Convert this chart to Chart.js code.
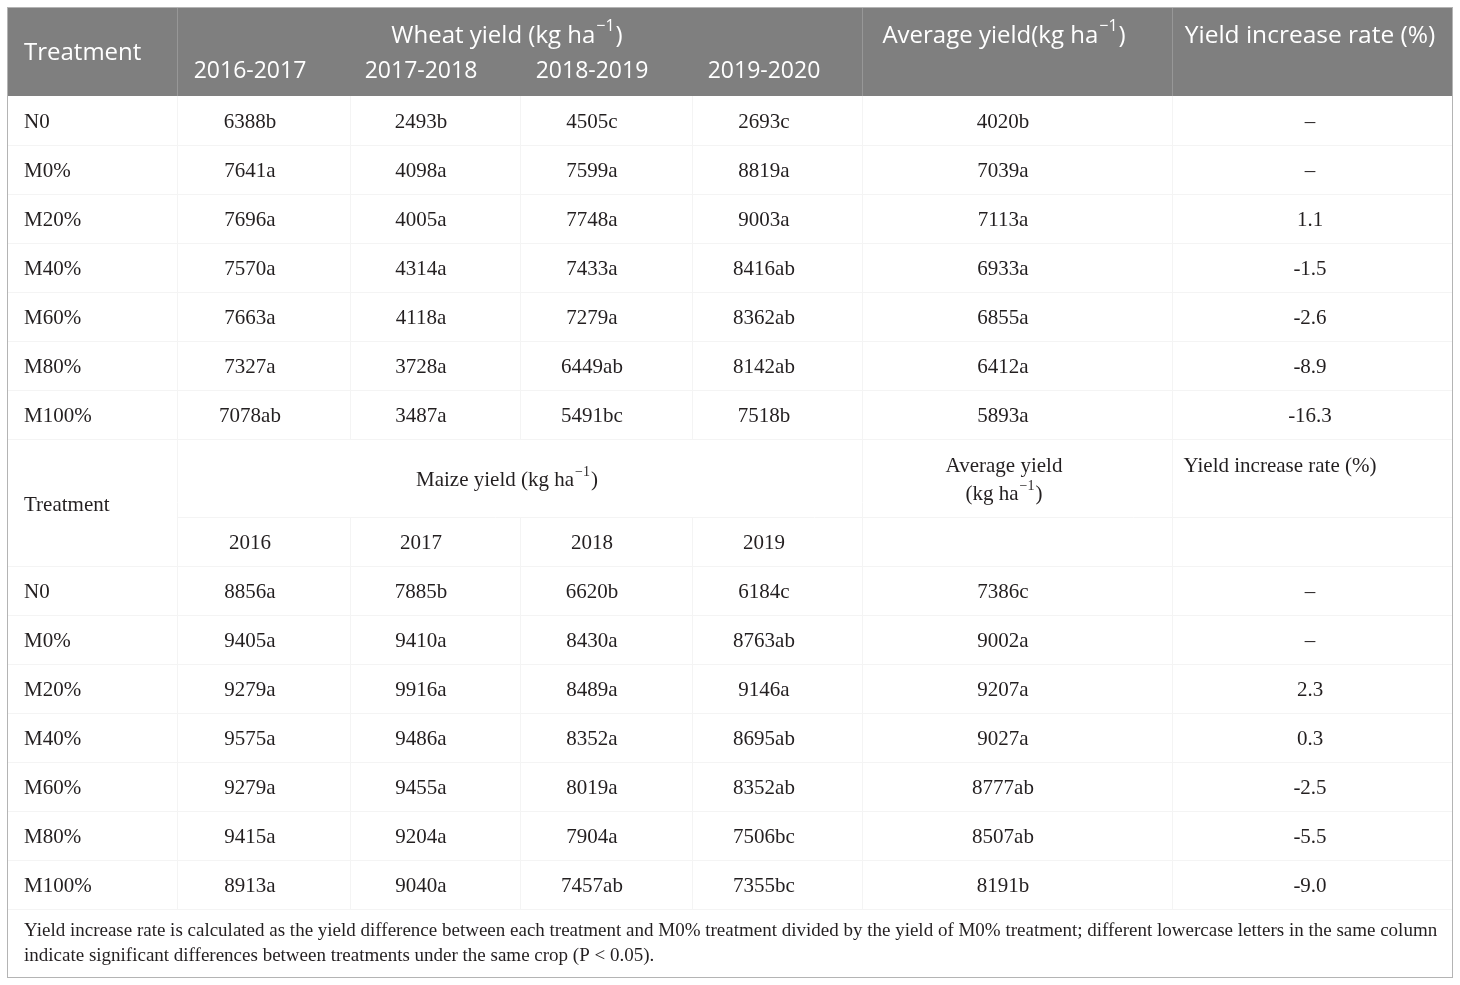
<!DOCTYPE html>
<html>
<head>
<meta charset="utf-8">
<title>Wheat and maize yield table</title>
<script src="https://cdn.jsdelivr.net/npm/chart.js@4"></script>
<style>
  html, body { margin: 0; padding: 0; background: #fff; }
  canvas { display: block; }
</style>
</head>
<body>
<canvas id="yieldTable" width="1460" height="985"></canvas>
<script>
// table data
const treatments = ['N0', 'M0%', 'M20%', 'M40%', 'M60%', 'M80%', 'M100%'];
const wheatSeasons = ['2016-2017', '2017-2018', '2018-2019', '2019-2020'];
const maizeYears = ['2016', '2017', '2018', '2019'];

const wheat1617 = [6388, 7641, 7696, 7570, 7663, 7327, 7078];
const wheat1617Sig = ['b', 'a', 'a', 'a', 'a', 'a', 'ab'];
const wheat1718 = [2493, 4098, 4005, 4314, 4118, 3728, 3487];
const wheat1718Sig = ['b', 'a', 'a', 'a', 'a', 'a', 'a'];
const wheat1819 = [4505, 7599, 7748, 7433, 7279, 6449, 5491];
const wheat1819Sig = ['c', 'a', 'a', 'a', 'a', 'ab', 'bc'];
const wheat1920 = [2693, 8819, 9003, 8416, 8362, 8142, 7518];
const wheat1920Sig = ['c', 'a', 'a', 'ab', 'ab', 'ab', 'b'];
const wheatAvg = [4020, 7039, 7113, 6933, 6855, 6412, 5893];
const wheatAvgSig = ['b', 'a', 'a', 'a', 'a', 'a', 'a'];
const wheatRate = [null, null, 1.1, -1.5, -2.6, -8.9, -16.3];

const maize2016 = [8856, 9405, 9279, 9575, 9279, 9415, 8913];
const maize2016Sig = ['a', 'a', 'a', 'a', 'a', 'a', 'a'];
const maize2017 = [7885, 9410, 9916, 9486, 9455, 9204, 9040];
const maize2017Sig = ['b', 'a', 'a', 'a', 'a', 'a', 'a'];
const maize2018 = [6620, 8430, 8489, 8352, 8019, 7904, 7457];
const maize2018Sig = ['b', 'a', 'a', 'a', 'a', 'a', 'ab'];
const maize2019 = [6184, 8763, 9146, 8695, 8352, 7506, 7355];
const maize2019Sig = ['c', 'ab', 'a', 'ab', 'ab', 'bc', 'bc'];
const maizeAvg = [7386, 9002, 9207, 9027, 8777, 8507, 8191];
const maizeAvgSig = ['c', 'a', 'a', 'a', 'ab', 'ab', 'b'];
const maizeRate = [null, null, 2.3, 0.3, -2.5, -5.5, -9.0];

const footnote = [
    'Yield increase rate is calculated as the yield difference between each treatment and M0% treatment divided by the yield of M0% treatment; different lowercase letters in the same column',
    'indicate significant differences between treatments under the same crop (P < 0.05).'
];

// layout (table units on the x / y scales)
const colEdges = [8, 177, 350, 520, 692, 862, 1172, 1452];
const colText = [24, 250, 421, 592, 764, 1003, 1310];
const tableTop = 8, tableBottom = 977;
const headBottom = 96;
const rowH = 49;
const wheatTop = 96, maizeHeadTop = 439, maizeYearTop = 517, maizeTop = 566, noteTop = 909;

const SANS = '"Open Sans", "Noto Sans", sans-serif';
const SERIF = '"Liberation Serif", "DejaVu Serif", serif';
const INK = '#231f20';
const SERIF_SIZE = 21;
const SERIF_DY = 2;

function rowCenter(top, i) { return top + rowH * i + rowH / 2 + SERIF_DY; }

function cellPoints(top, col) {
    return treatments.map((t, i) => ({ x: colText[col], y: rowCenter(top, i) }));
}

function yieldText(vals, sig) { return vals.map((v, i) => v + sig[i]); }
function rateText(vals) { return vals.map(v => v === null ? '–' : v.toFixed(1)); }

const blocks = [
    { top: wheatTop, cols: [treatments, yieldText(wheat1617, wheat1617Sig), yieldText(wheat1718, wheat1718Sig),
        yieldText(wheat1819, wheat1819Sig), yieldText(wheat1920, wheat1920Sig),
        yieldText(wheatAvg, wheatAvgSig), rateText(wheatRate)] },
    { top: maizeTop, cols: [treatments, yieldText(maize2016, maize2016Sig), yieldText(maize2017, maize2017Sig),
        yieldText(maize2018, maize2018Sig), yieldText(maize2019, maize2019Sig),
        yieldText(maizeAvg, maizeAvgSig), rateText(maizeRate)] }
];

const datasets = [];
blocks.forEach(b => {
    b.cols.forEach((texts, c) => {
        datasets.push({ data: cellPoints(b.top, c), texts: texts, align: c === 0 ? 'left' : 'center', pointRadius: 0 });
    });
});

// text with a "−1" superscript part
function drawRich(ctx, parts, x, y, size, family, color, align) {
    const supSize = Math.round(size * 0.66);
    let total = 0;
    parts.forEach(p => {
        ctx.font = (p.sup ? supSize : size) + 'px ' + family;
        p.w = ctx.measureText(p.t).width + (p.sup ? 2 : 0);
        total += p.w;
    });
    let cx = align === 'center' ? x - total / 2 : x;
    ctx.fillStyle = color;
    ctx.textAlign = 'left';
    ctx.textBaseline = 'middle';
    parts.forEach(p => {
        ctx.font = (p.sup ? supSize : size) + 'px ' + family;
        ctx.fillText(p.t, cx + (p.sup ? 1 : 0), p.sup ? y - size * 0.38 : y);
        cx += p.w;
    });
}

const unit = (pre) => [{ t: pre + '(kg ha' }, { t: '−1', sup: true }, { t: ')' }];

function vline(ctx, px, y0, y1) {
    ctx.beginPath();
    ctx.moveTo(Math.round(px) + 0.5, y0);
    ctx.lineTo(Math.round(px) + 0.5, y1);
    ctx.stroke();
}
function hline(ctx, py, x0, x1) {
    ctx.beginPath();
    ctx.moveTo(x0, Math.round(py) + 0.5);
    ctx.lineTo(x1, Math.round(py) + 0.5);
    ctx.stroke();
}

const tablePlugin = {
    id: 'tablePlugin',
    beforeDatasetsDraw(chart) {
        const { ctx, scales: { x, y } } = chart;
        const X = v => x.getPixelForValue(v), Y = v => y.getPixelForValue(v);
        ctx.save();
        // header band
        ctx.fillStyle = '#7f7f7f';
        ctx.fillRect(X(8), Y(tableTop), X(1452) - X(8), Y(headBottom) - Y(tableTop));
        ctx.strokeStyle = '#979797';
        ctx.lineWidth = 1;
        [177, 862, 1172].forEach(e => vline(ctx, X(e), Y(tableTop), Y(headBottom)));
        // faint cell grid
        ctx.strokeStyle = '#f4f4f4';
        for (let i = 1; i <= 7; i++) hline(ctx, Y(wheatTop + rowH * i), X(8), X(1452));
        hline(ctx, Y(maizeYearTop), X(177), X(1452));
        for (let i = 0; i <= 7; i++) hline(ctx, Y(maizeTop + rowH * i), X(8), X(1452));
        [177, 862, 1172].forEach(e => vline(ctx, X(e), Y(headBottom), Y(noteTop)));
        [350, 520, 692].forEach(e => {
            vline(ctx, X(e), Y(headBottom), Y(maizeHeadTop));
            vline(ctx, X(e), Y(maizeYearTop), Y(noteTop));
        });
        // outer border
        ctx.strokeStyle = '#b4b4b4';
        ctx.strokeRect(Math.round(X(8)) - 0.5, Math.round(Y(tableTop)) - 0.5,
            Math.round(X(1452) - X(8)) + 1, Math.round(Y(tableBottom) - Y(tableTop)) + 1);
        ctx.restore();
    },
    afterDatasetsDraw(chart) {
        const { ctx, scales: { x, y } } = chart;
        const X = v => x.getPixelForValue(v), Y = v => y.getPixelForValue(v);
        ctx.save();
        // wheat header (white sans)
        ctx.fillStyle = '#fff';
        ctx.textBaseline = 'middle';
        ctx.font = '24px ' + SANS;
        ctx.textAlign = 'left';
        ctx.fillText('Treatment', X(colText[0]), Y(53));
        ctx.font = '23px ' + SANS;
        ctx.textAlign = 'center';
        wheatSeasons.forEach((s, i) => ctx.fillText(s, X(colText[i + 1]), Y(71)));
        drawRich(ctx, unit('Wheat yield '), X(507), Y(36), 24, SANS, '#fff', 'center');
        drawRich(ctx, unit('Average yield'), X(1004), Y(36), 24, SANS, '#fff', 'center');
        ctx.font = '24.5px ' + SANS;
        ctx.textAlign = 'center';
        ctx.fillStyle = '#fff';
        ctx.fillText('Yield increase rate (%)', X(1310), Y(36));

        // maize header (dark serif)
        ctx.fillStyle = INK;
        ctx.font = SERIF_SIZE + 'px ' + SERIF;
        ctx.textAlign = 'left';
        ctx.fillText('Treatment', X(colText[0]), Y(503 + SERIF_DY));
        ctx.textAlign = 'center';
        maizeYears.forEach((s, i) => ctx.fillText(s, X(colText[i + 1]), Y(541 + SERIF_DY)));
        ctx.fillText('Average yield', X(1004), Y(464 + SERIF_DY));
        ctx.fillText('Yield increase rate (%)', X(1280), Y(464 + SERIF_DY));
        drawRich(ctx, unit('Maize yield '), X(507), Y(478 + SERIF_DY), SERIF_SIZE, SERIF, INK, 'center');
        drawRich(ctx, unit(''), X(1004), Y(492 + SERIF_DY), SERIF_SIZE, SERIF, INK, 'center');

        // cells from the scatter points
        ctx.fillStyle = INK;
        ctx.font = SERIF_SIZE + 'px ' + SERIF;
        ctx.textBaseline = 'middle';
        chart.data.datasets.forEach((ds, d) => {
            const meta = chart.getDatasetMeta(d);
            ctx.textAlign = ds.align;
            meta.data.forEach((pt, i) => ctx.fillText(ds.texts[i], pt.x, pt.y));
        });

        // footnote
        ctx.font = '19px ' + SERIF;
        ctx.textAlign = 'left';
        footnote.forEach((line, i) => ctx.fillText(line, X(24), Y(931 + 25 * i)));
        ctx.restore();
    }
};

new Chart(document.getElementById('yieldTable'), {
    type: 'scatter',
    data: { datasets: datasets },
    options: {
        responsive: false,
        animation: false,
        devicePixelRatio: 1,
        layout: { padding: 8 },
        events: [],
        scales: {
            x: { type: 'linear', display: false, min: 8, max: 1452 },
            y: { type: 'linear', display: false, min: 8, max: 977, reverse: true }
        },
        plugins: { legend: { display: false }, tooltip: { enabled: false } }
    },
    plugins: [tablePlugin]
});
</script>
</body>
</html>
